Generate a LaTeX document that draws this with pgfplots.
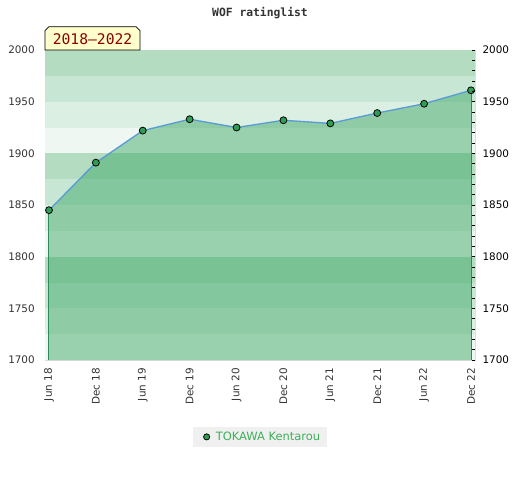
\documentclass[border=0pt]{standalone}
\usepackage{fontspec}
\setmainfont{DejaVu Sans}
\newfontfamily\monofont{DejaVu Sans Mono}
\usepackage{pgfplots}
\pgfplotsset{compat=1.18}
\definecolor{bandA}{HTML}{B3DCC0}
\definecolor{bandB}{HTML}{C8E6D4}
\definecolor{bandC}{HTML}{DCEFE3}
\definecolor{bandD}{HTML}{EEF7F1}
\definecolor{areagreen}{RGB}{45,161,90}
\definecolor{lineblue}{RGB}{91,155,213}
\definecolor{edgegreen}{RGB}{46,139,87}
\definecolor{markgreen}{RGB}{46,158,85}
\definecolor{legtext}{RGB}{60,176,90}
\definecolor{txtgray}{HTML}{333333}
\definecolor{bordergray}{HTML}{DDDDDD}
\definecolor{boxyellow}{HTML}{FFFFCC}
\definecolor{darkred}{HTML}{8B0000}
\begin{document}
\begin{tikzpicture}
\useasboundingbox (0,0) rectangle (390pt,360pt);
\begin{axis}[
  at={(33.75pt,90pt)}, anchor=south west,
  scale only axis, width=322.5pt, height=232.5pt,
  xmin=-0.085, xmax=9.085, ymin=1700, ymax=2000,
  xtick={0,...,9},
  xticklabels={Jun 18,Dec 18,Jun 19,Dec 19,Jun 20,Dec 20,Jun 21,Dec 21,Jun 22,Dec 22},
  xticklabel style={rotate=90, anchor=east, inner sep=0pt, yshift=0pt, xshift=-6pt, font=\fontsize{7.8}{9}\selectfont, text=txtgray},
  ytick={1700,1750,...,2000},
  yticklabel style={anchor=east, inner sep=0pt, xshift=-7.5pt, font=\fontsize{7.8}{9}\selectfont, text=txtgray},
  /pgf/number format/assume math mode=true,
  /pgf/number format/1000 sep={},
  major tick length=0pt,
  axis line style={draw=bordergray, line width=0.75pt},
  tick style={draw=none},
  legend style={at={(0.5,-0.248)}, anchor=center, fill={rgb,255:red,240;green,240;blue,240}, draw=none,
    font=\fontsize{8.6}{10}\selectfont, text=legtext, inner xsep=3pt, inner ysep=1.5pt},
  legend image code/.code={%
    \path[draw=none] (0pt,0pt) -- (12pt,0pt);
    \node[circle, fill=markgreen, draw=black, line width=0.6pt, inner sep=0pt, minimum size=4.6pt] at (4.5pt,0pt) {};},
  legend cell align=left,
]
% background bands
\fill[bandA] (axis cs:-0.085,1975) rectangle (axis cs:9.085,2000);
\fill[bandB] (axis cs:-0.085,1950) rectangle (axis cs:9.085,1975);
\fill[bandC] (axis cs:-0.085,1925) rectangle (axis cs:9.085,1950);
\fill[bandD] (axis cs:-0.085,1900) rectangle (axis cs:9.085,1925);
\fill[bandA] (axis cs:-0.085,1875) rectangle (axis cs:9.085,1900);
\fill[bandB] (axis cs:-0.085,1850) rectangle (axis cs:9.085,1875);
\fill[bandC] (axis cs:-0.085,1825) rectangle (axis cs:9.085,1850);
\fill[bandD] (axis cs:-0.085,1800) rectangle (axis cs:9.085,1825);
\fill[bandA] (axis cs:-0.085,1775) rectangle (axis cs:9.085,1800);
\fill[bandB] (axis cs:-0.085,1750) rectangle (axis cs:9.085,1775);
\fill[bandC] (axis cs:-0.085,1725) rectangle (axis cs:9.085,1750);
\fill[bandD] (axis cs:-0.085,1700) rectangle (axis cs:9.085,1725);
% area
\addplot[draw=none, fill=areagreen, fill opacity=0.44, forget plot] coordinates {
(0,1700) (0,1845) (1,1891) (2,1922) (3,1933) (4,1925) (5,1932) (6,1929) (7,1939) (8,1948) (9,1961) (9,1700)} -- cycle;
\addplot[edgegreen, line width=0.75pt, forget plot] coordinates {(0,1700) (0,1845)};
\addplot[edgegreen, line width=0.75pt, forget plot] coordinates {(9,1700) (9,1961)};
\addplot[lineblue, line width=1pt, forget plot] coordinates {
(0,1845) (1,1891) (2,1922) (3,1933) (4,1925) (5,1932) (6,1929) (7,1939) (8,1948) (9,1961)};
\addplot[only marks, mark=*, mark size=2.6pt, mark options={fill=markgreen, draw=black, line width=0.6pt}] coordinates {
(0,1845) (1,1891) (2,1922) (3,1933) (4,1925) (5,1932) (6,1929) (7,1939) (8,1948) (9,1961)};
\addlegendentry{TOKAWA Kentarou}
\end{axis}
\begin{axis}[
  at={(33.75pt,90pt)}, anchor=south west,
  scale only axis, width=322.5pt, height=232.5pt,
  xmin=0, xmax=1, ymin=1700, ymax=2000,
  hide x axis,
  axis y line*=right,
  y axis line style={draw=none},
  ytick={1700,1750,...,2000},
  minor ytick={1710,1720,...,1990},
  tick align=inside,
  major tick length=2.5pt, minor tick length=2.5pt,
  tick style={draw=black, line width=0.6pt},
  yticklabel style={anchor=west, inner sep=0pt, xshift=5.5pt, font=\fontsize{7.8}{9}\selectfont, text=black},
  /pgf/number format/assume math mode=true,
  /pgf/number format/1000 sep={},
]
\addplot[draw=none] coordinates {(0,1700)};
\end{axis}
% title
\node[font=\monofont\bfseries\fontsize{8.5}{10}\selectfont, text=txtgray] at (195pt,350.25pt) {WOF ratinglist};
% period label
\draw[fill=boxyellow, draw=black, line width=0.6pt]
  (33.75pt,322.5pt) -- (33.75pt,337pt) -- (36.75pt,340pt) -- (102pt,340pt) -- (105pt,337pt) -- (105pt,322.5pt) -- cycle;
\node[font=\monofont\fontsize{11}{12}\selectfont, text=darkred] at (69.4pt,330.8pt) {2018–2022};
\end{tikzpicture}
\end{document}
